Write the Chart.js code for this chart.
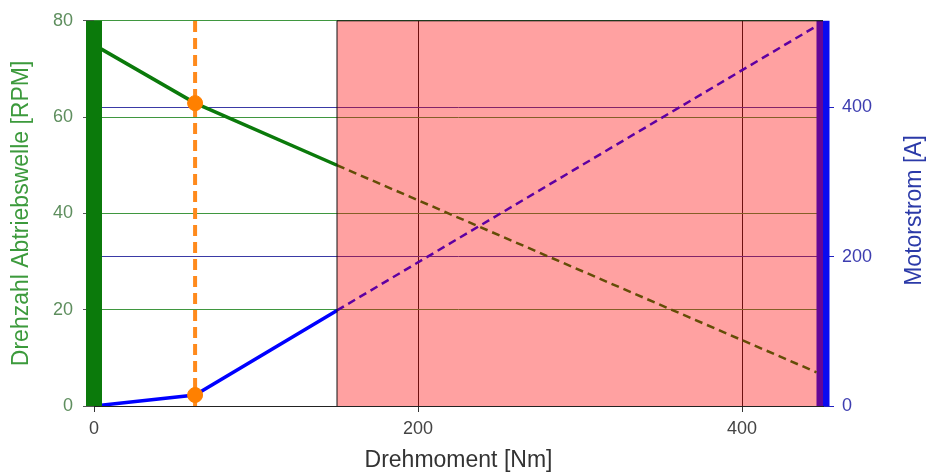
<!DOCTYPE html>
<html>
<head>
<meta charset="utf-8">
<script src="https://cdn.jsdelivr.net/npm/chart.js@4/dist/chart.umd.min.js"></script>
<style>
  html, body { margin: 0; padding: 0; background: #ffffff; }
  #wrap { width: 927px; height: 475px; }
</style>
</head>
<body>
<div id="wrap"><canvas id="c" width="927" height="475"></canvas></div>
<script>
// ---- data ----
const torqueSolid   = [0, 62.4, 150];
const speedSolid    = [75, 62.9, 50];
const currentSolid  = [0, 14.7, 128];
const torqueDashed  = [150, 446];
const speedDashed   = [50, 7];
const currentDashed = [128, 509];
const opTorque  = 62.4;
const opSpeed   = 62.9;
const opCurrent = 14.7;
const overloadStart = 150;
const xRange  = [0, 450];
const yRange  = [0, 80];
const y2Range = [0, 516];
const xTicks  = [0, 200, 400];
const yTicks  = [0, 20, 40, 60, 80];
const y2Ticks = [0, 200, 400];

const FONT = '"Liberation Sans", Arial, sans-serif';
const pts = (xs, ys) => xs.map((x, i) => ({ x: x, y: ys[i] }));
const setTicks = (list) => (scale) => { scale.ticks = list.map(v => ({ value: v })); };

const rightTitle = {
  id: 'rightTitle',
  afterDraw(chart) {
    const ctx = chart.ctx, a = chart.chartArea;
    ctx.save();
    ctx.translate(915, (a.top + a.bottom) / 2 - 3);
    ctx.rotate(-Math.PI / 2);
    ctx.textAlign = 'center';
    ctx.textBaseline = 'middle';
    ctx.font = '23px ' + FONT;
    ctx.fillStyle = '#2b3aa8';
    ctx.fillText('Motorstrom [A]', 0, 0);
    ctx.restore();
  }
};

new Chart(document.getElementById('c'), {
  type: 'line',
  data: {
    datasets: [
      { // left axis band (speed)
        data: pts([xRange[0], xRange[0]], [yRange[0], yRange[1]]), yAxisID: 'y',
        borderColor: '#0b7a0b', borderWidth: 16, pointRadius: 0, fill: false, order: -1, clip: false
      },
      { // right axis band (current)
        data: pts([xRange[1], xRange[1]], [y2Range[0], y2Range[1]]), yAxisID: 'y2',
        borderColor: '#0a0af0', borderWidth: 13, pointRadius: 0, fill: false, order: 10, clip: false
      },
      { // overload region
        data: pts([overloadStart, overloadStart, xRange[1]], [yRange[0], yRange[1], yRange[1]]),
        yAxisID: 'y', borderColor: '#111', borderWidth: 1, pointRadius: 0,
        backgroundColor: 'rgba(255,0,0,0.37)', fill: 'start', order: 0,
        clip: { left: 1, top: 1, right: 2, bottom: 1 }
      },
      { // operating point markers
        data: [{ x: opTorque, y: opSpeed }], yAxisID: 'y', showLine: false,
        pointRadius: 7.5, pointBackgroundColor: '#ff8000', pointBorderColor: '#ff8000', order: 1
      },
      {
        data: [{ x: opTorque, y: opCurrent }], yAxisID: 'y2', showLine: false,
        pointRadius: 7.5, pointBackgroundColor: '#ff8000', pointBorderColor: '#ff8000', order: 1
      },
      { // speed
        data: pts(torqueSolid, speedSolid), yAxisID: 'y',
        borderColor: '#0b7a0b', borderWidth: 3.5, pointRadius: 0, fill: false, order: 3
      },
      {
        data: pts(torqueDashed, speedDashed), yAxisID: 'y',
        borderColor: '#0b7a0b', borderWidth: 2.5, borderDash: [8, 5], pointRadius: 0, fill: false, order: 3
      },
      { // current
        data: pts(torqueSolid, currentSolid), yAxisID: 'y2',
        borderColor: '#0000ff', borderWidth: 3.5, pointRadius: 0, fill: false, order: 3
      },
      {
        data: pts(torqueDashed, currentDashed), yAxisID: 'y2',
        borderColor: '#0000ff', borderWidth: 2.5, borderDash: [8, 5], pointRadius: 0, fill: false, order: 3
      },
      { // operating torque
        data: pts([opTorque, opTorque], [yRange[0], yRange[1]]), yAxisID: 'y',
        borderColor: '#ff8a1c', borderWidth: 4, borderDash: [11, 6], pointRadius: 0, fill: false, order: 2
      }
    ]
  },
  options: {
    responsive: false,
    animation: false,
    events: [],
    layout: { padding: { top: 20, left: 0, right: 0, bottom: 0 } },
    plugins: { legend: { display: false }, tooltip: { enabled: false } },
    elements: { line: { tension: 0 } },
    scales: {
      x: {
        type: 'linear', position: 'bottom', min: xRange[0], max: xRange[1],
        afterBuildTicks: setTicks(xTicks),
        afterFit: (s) => { s.height = 69; },
        grid: { color: '#1a1a1a', lineWidth: 1, tickLength: 6, tickColor: '#333' },
        border: { color: '#222', width: 1 },
        ticks: { color: '#444', font: { family: FONT, size: 18 }, padding: 6, maxRotation: 0 },
        title: { display: true, text: 'Drehmoment [Nm]', color: '#333', font: { family: FONT, size: 23 }, padding: { top: 0, bottom: 1 } }
      },
      y: {
        type: 'linear', position: 'left', min: yRange[0], max: yRange[1],
        afterBuildTicks: setTicks(yTicks),
        afterFit: (s) => { s.width = 94; },
        grid: { color: '#3f973f', lineWidth: 1, tickLength: 11, tickColor: '#555' },
        border: { display: false },
        ticks: { color: '#5e8e5e', font: { family: FONT, size: 18 }, padding: 10 },
        title: { display: true, text: 'Drehzahl Abtriebswelle [RPM]', color: '#3c9a3c', font: { family: FONT, size: 23 }, padding: { top: 8, bottom: 0 } }
      },
      y2: {
        type: 'linear', position: 'right', min: y2Range[0], max: y2Range[1],
        afterBuildTicks: setTicks(y2Ticks),
        afterFit: (s) => { s.width = 104; },
        grid: { color: '#3a3aa6', lineWidth: 1, tickLength: 11, tickColor: '#2020c0' },
        border: { display: false },
        ticks: { color: '#3d3db0', font: { family: FONT, size: 18 }, padding: 8 },
        title: { display: false }
      }
    }
  },
  plugins: [rightTitle]
});
</script>
</body>
</html>
